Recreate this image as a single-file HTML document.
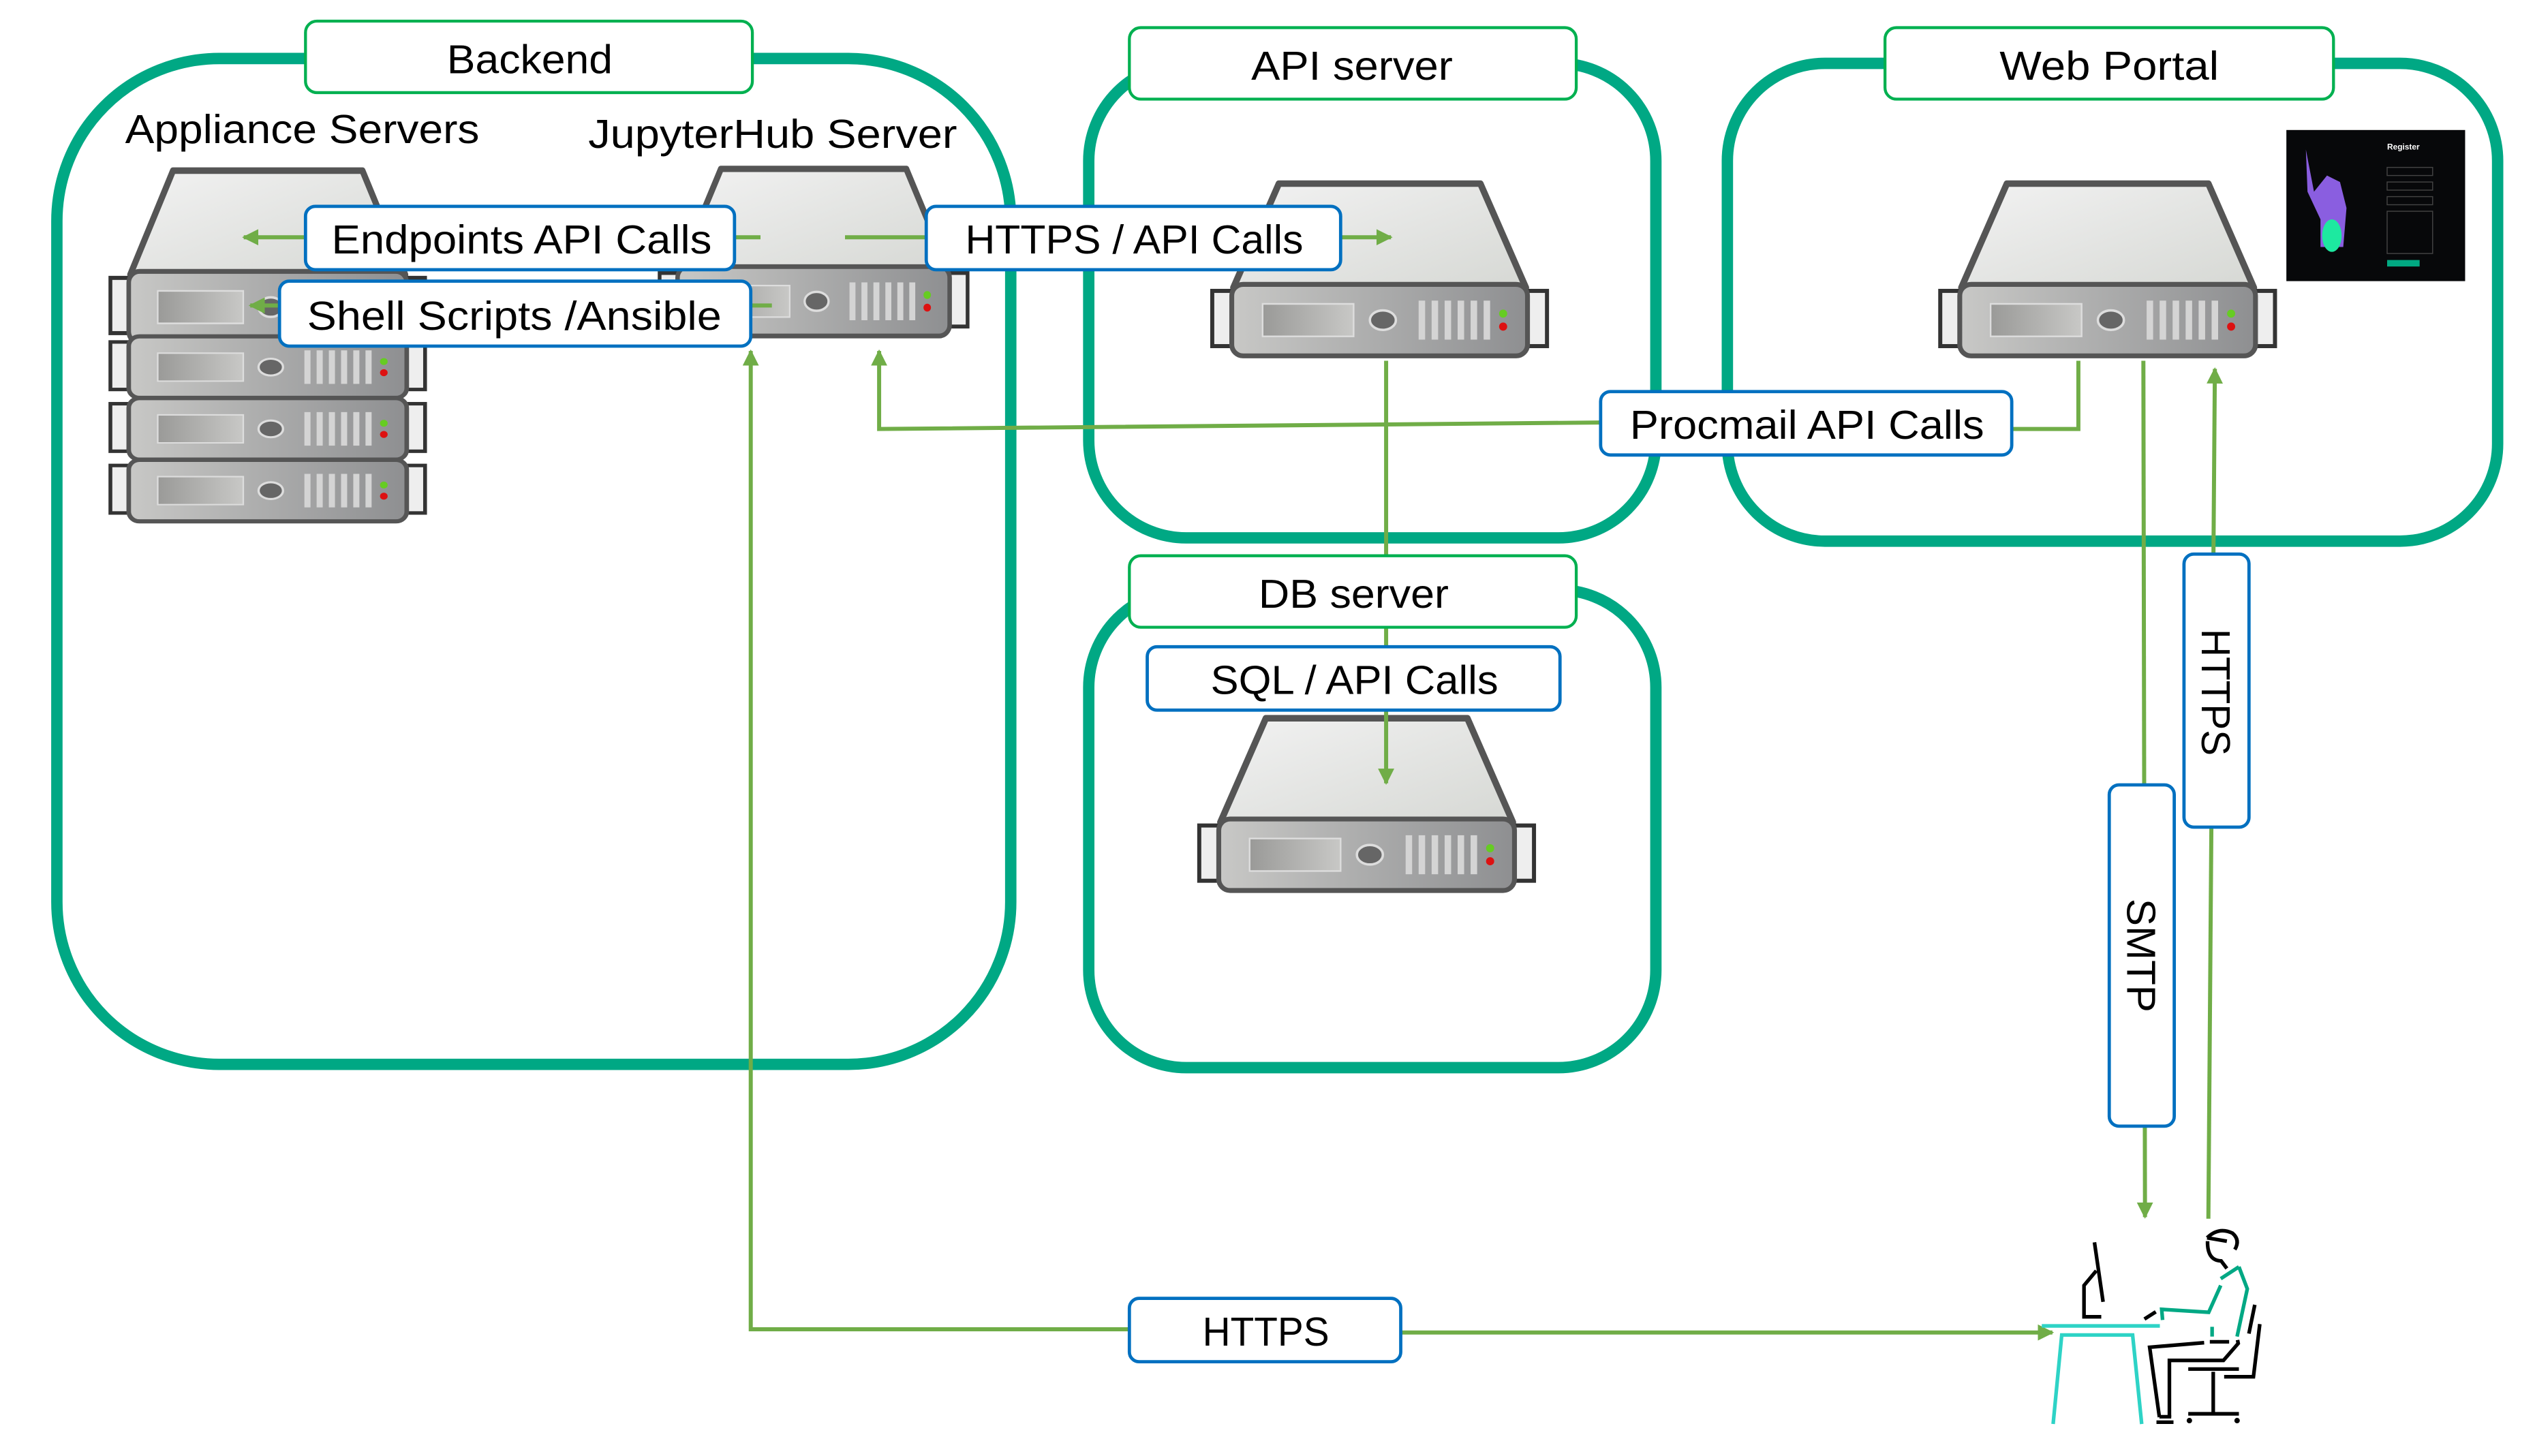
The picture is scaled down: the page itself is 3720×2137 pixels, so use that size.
<!DOCTYPE html>
<html><head><meta charset="utf-8"><style>
html,body{margin:0;padding:0;background:#fff;}
svg{display:block;}
text{font-family:"Liberation Sans",sans-serif;fill:#000;}
</style></head><body>
<svg width="3720" height="2137" viewBox="0 0 1560 896" preserveAspectRatio="none" xmlns="http://www.w3.org/2000/svg">
<defs>
<linearGradient id="gf" x1="0" y1="0" x2="1" y2="0"><stop offset="0" stop-color="#c8c8c6"/><stop offset="1" stop-color="#8e8f91"/></linearGradient>
<linearGradient id="gt" x1="0" y1="0" x2="1" y2="1"><stop offset="0" stop-color="#f2f2f2"/><stop offset="1" stop-color="#d6d8d4"/></linearGradient>
<linearGradient id="gd" x1="0" y1="0" x2="1" y2="0"><stop offset="0" stop-color="#9a9a98"/><stop offset="1" stop-color="#c8c8c6"/></linearGradient>
<g id="front">
 <rect x="1" y="4" width="12" height="34" fill="#eee" stroke="#333" stroke-width="2.5"/>
 <rect x="195" y="4" width="12" height="34" fill="#eee" stroke="#333" stroke-width="2.5"/>
 <rect x="13" y="0" width="182" height="44" rx="7" fill="url(#gf)" stroke="#555" stroke-width="3"/>
 <path d="M32,12 L88,12 L88,32 L32,32 Z" fill="url(#gd)" stroke="#ddd" stroke-width="1"/>
 <ellipse cx="106" cy="22" rx="8" ry="6" fill="#666" stroke="#ddd" stroke-width="1.5"/>
 <g fill="#d4d4d4"><rect x="128" y="10" width="4" height="24"/><rect x="136" y="10" width="4" height="24"/><rect x="144" y="10" width="4" height="24"/><rect x="152" y="10" width="4" height="24"/><rect x="160" y="10" width="4" height="24"/><rect x="168" y="10" width="4" height="24"/></g>
 <circle cx="180" cy="18" r="2.5" fill="#6c2"/><circle cx="180" cy="26" r="2.5" fill="#d11"/>
</g>
<g id="srv">
 <path d="M42,2 L166,2 L194,66 L14,66 Z" fill="url(#gt)" stroke="#555" stroke-width="4" stroke-linejoin="round"/>
 <use href="#front" y="64"/>
</g>
<marker id="ah" viewBox="0 0 10 10" refX="9" refY="5" markerWidth="4" markerHeight="4" orient="auto"><path d="M0,0 L10,5 L0,10 Z" fill="#70ad47"/></marker>
</defs>

<!-- containers -->
<g fill="none" stroke="#00a884" stroke-width="7">
 <rect x="35" y="36" width="587" height="619" rx="100"/>
 <rect x="670" y="39" width="349" height="292" rx="60"/>
 <rect x="1063" y="39" width="474" height="294" rx="60"/>
 <rect x="670" y="363" width="349" height="294" rx="60"/>
</g>

<!-- servers -->
<g transform="translate(67,103) scale(0.94,1.0)"><use href="#srv"/></g>
<g transform="translate(67,207) scale(0.94,0.86)"><use href="#front"/></g>
<g transform="translate(67,245) scale(0.94,0.86)"><use href="#front"/></g>
<g transform="translate(67,283) scale(0.94,0.86)"><use href="#front"/></g>
<g transform="translate(405,102) scale(0.92,0.97)"><use href="#srv"/></g>
<g transform="translate(745,111)"><use href="#srv"/></g>
<g transform="translate(1193,111)"><use href="#srv"/></g>
<g transform="translate(737,440)"><use href="#srv"/></g>

<!-- screenshot -->
<rect x="1407" y="80" width="110" height="93" fill="#07080a"/>
<path d="M1419,92 L1420,118 L1428,135 L1428,152 L1442,152 L1444,128 L1440,112 L1432,108 L1424,118 Z" fill="#8a5ee0"/>
<ellipse cx="1435" cy="145" rx="6" ry="10" fill="#1de9a0"/>
<text x="1469" y="92" font-size="5" style="fill:#fff" font-weight="bold">Register</text>
<g fill="none" stroke="#444" stroke-width="0.6"><rect x="1469" y="103" width="28" height="5"/><rect x="1469" y="112" width="28" height="5"/><rect x="1469" y="121" width="28" height="5"/><rect x="1469" y="130" width="28" height="26"/></g>
<rect x="1469" y="160" width="20" height="4" fill="#01a982"/>

<!-- connectors -->
<g stroke="#70ad47" stroke-width="2.5" fill="none">
 <line x1="188" y1="146" x2="150" y2="146" marker-end="url(#ah)"/>
 <line x1="452" y1="146" x2="468" y2="146"/>
 <line x1="520" y1="146" x2="570" y2="146"/>
 <line x1="825" y1="146" x2="856" y2="146" marker-end="url(#ah)"/>
 <line x1="172" y1="188" x2="154" y2="188" marker-end="url(#ah)"/>
 <line x1="462" y1="188" x2="475" y2="188"/>
 <polyline points="985,260 541,264 541,216" marker-end="url(#ah)"/>
 <polyline points="1238,264 1279,264 1279,222"/>
 <line x1="853" y1="222" x2="853" y2="482" marker-end="url(#ah)"/>
 <polyline points="695,818 462,818 462,216" marker-end="url(#ah)"/>
 <line x1="862" y1="820" x2="1263" y2="820" marker-end="url(#ah)"/>
 <line x1="1319" y1="222" x2="1320" y2="749" marker-end="url(#ah)"/>
 <line x1="1359" y1="750" x2="1363" y2="227" marker-end="url(#ah)"/>
</g>

<!-- green title boxes -->
<g fill="#fff" stroke="#00b050" stroke-width="1.8">
 <rect x="188" y="13" width="275" height="44" rx="7"/>
 <rect x="695" y="17" width="275" height="44" rx="7"/>
 <rect x="1160" y="17" width="276" height="44" rx="7"/>
 <rect x="695" y="342" width="275" height="44" rx="7"/>
</g>
<g font-size="25" text-anchor="middle">
 <text x="326" y="45" textLength="102" lengthAdjust="spacingAndGlyphs">Backend</text>
 <text x="832" y="49" textLength="124" lengthAdjust="spacingAndGlyphs">API server</text>
 <text x="1298" y="49" textLength="135" lengthAdjust="spacingAndGlyphs">Web Portal</text>
 <text x="833" y="374" textLength="117" lengthAdjust="spacingAndGlyphs">DB server</text>
</g>
<text x="77" y="88" font-size="25" textLength="218" lengthAdjust="spacingAndGlyphs">Appliance Servers</text>
<text x="362" y="91" font-size="25" textLength="227" lengthAdjust="spacingAndGlyphs">JupyterHub Server</text>

<!-- blue label boxes -->
<g fill="#fff" stroke="#0070c0" stroke-width="2">
 <rect x="188" y="127" width="264" height="39" rx="6"/>
 <rect x="172" y="173" width="290" height="40" rx="6"/>
 <rect x="570" y="127" width="255" height="39" rx="6"/>
 <rect x="985" y="241" width="253" height="39" rx="6"/>
 <rect x="706" y="398" width="254" height="39" rx="6"/>
 <rect x="695" y="799" width="167" height="39" rx="6"/>
 <rect x="1298" y="483" width="40" height="210" rx="6"/>
 <rect x="1344" y="341" width="40" height="168" rx="6"/>
</g>
<g font-size="25">
 <text x="204" y="156" textLength="234" lengthAdjust="spacingAndGlyphs">Endpoints API Calls</text>
 <text x="189" y="203" textLength="255" lengthAdjust="spacingAndGlyphs">Shell Scripts /Ansible</text>
 <text x="594" y="156" textLength="208" lengthAdjust="spacingAndGlyphs">HTTPS / API Calls</text>
 <text x="1003" y="270" textLength="218" lengthAdjust="spacingAndGlyphs">Procmail API Calls</text>
 <text x="745" y="427" textLength="177" lengthAdjust="spacingAndGlyphs">SQL / API Calls</text>
 <text x="740" y="828" textLength="78" lengthAdjust="spacingAndGlyphs">HTTPS</text>
 <text transform="translate(1309,553) rotate(90)" textLength="70" lengthAdjust="spacingAndGlyphs">SMTP</text>
 <text transform="translate(1355,387) rotate(90)" textLength="78" lengthAdjust="spacingAndGlyphs">HTTPS</text>
</g>

<!-- person at desk -->
<g transform="scale(0.41929) translate(2900,1700) scale(0.33333)" fill="none" stroke-width="16">
 <g stroke="#2ed3c6">
  <line x1="290" y1="738" x2="810" y2="738"/>
  <polyline points="340,1170 378,778 690,778 730,1170"/>
 </g>
 <g stroke="#000">
  <line x1="522" y1="370" x2="560" y2="632"/>
  <polyline points="530,495 476,560 476,698 552,698"/>
  <line x1="742" y1="708" x2="792" y2="676"/>
  <path d="M1018,350 Q1070,300 1130,330 Q1165,360 1140,402"/>
  <path d="M1020,365 Q1018,450 1080,452 L1105,485"/>
  <line x1="1018" y1="350" x2="1105" y2="365"/>
  <polyline points="808,1140 765,832 1005,812"/>
  <line x1="1030" y1="808" x2="1115" y2="808"/>
  <polyline points="1152,800 1155,815 1090,890 852,890 852,1140"/>
  <line x1="795" y1="1162" x2="870" y2="1162"/>
  <line x1="808" y1="1138" x2="860" y2="1138"/>
  <line x1="935" y1="928" x2="1158" y2="928"/>
  <line x1="1045" y1="940" x2="1045" y2="1125"/>
  <line x1="935" y1="1125" x2="1158" y2="1125"/>
  <line x1="1228" y1="645" x2="1202" y2="772"/>
  <polyline points="1250,730 1222,962 1093,962"/>
 </g>
 <circle cx="940" cy="1155" r="12" fill="#000"/>
 <circle cx="1150" cy="1155" r="12" fill="#000"/>
 <g stroke="#00a884">
  <line x1="1078" y1="530" x2="1158" y2="478"/>
  <polyline points="1158,478 1195,575 1150,785"/>
  <polyline points="1078,560 1025,678 818,665 822,712"/>
  <line x1="1040" y1="742" x2="1040" y2="785"/>
 </g>
</g>
</svg>
</body></html>
